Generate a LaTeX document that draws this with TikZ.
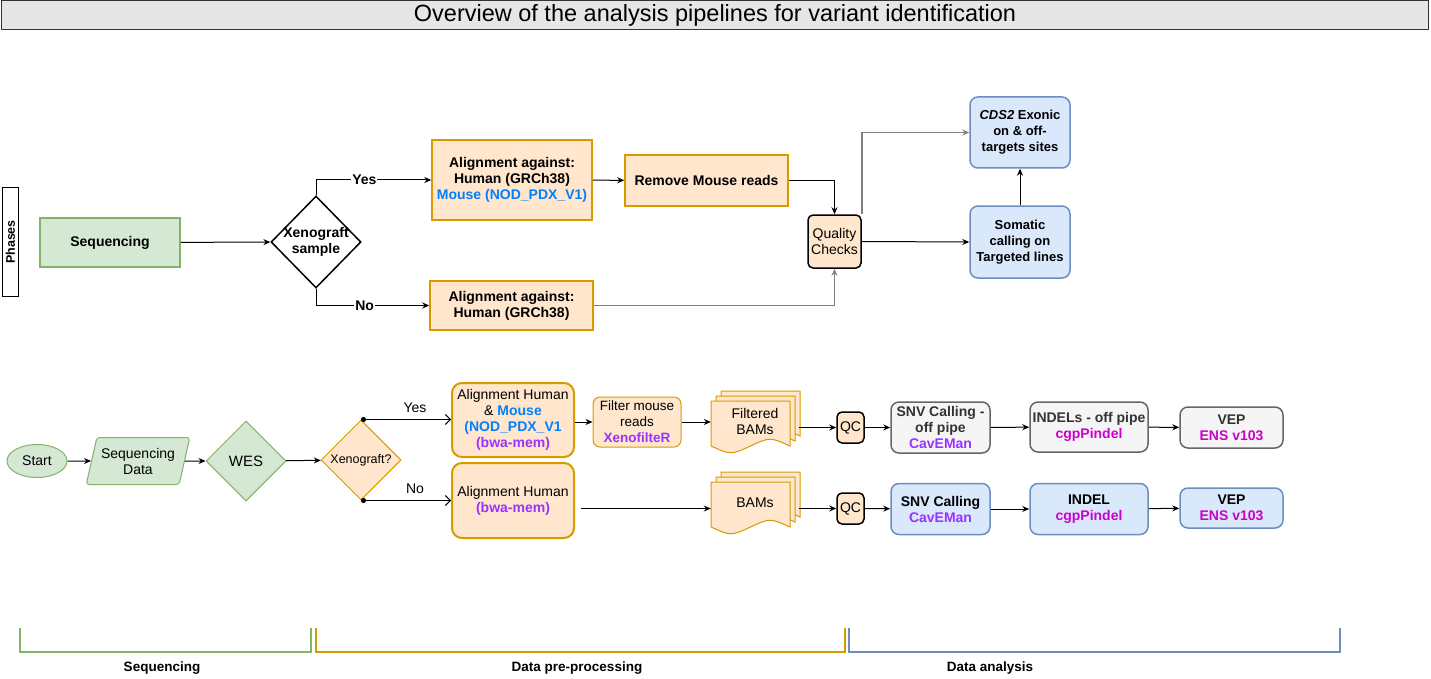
\documentclass[tikz,border=0pt]{standalone}
\usepackage{fontspec}
\setmainfont{Liberation Sans}
\usetikzlibrary{shapes.geometric,arrows.meta,positioning,calc}
\definecolor{LineGreen}{HTML}{82B366}
\definecolor{SoftGreen}{HTML}{D5E8D4}
\definecolor{LineOrange}{HTML}{D79B00}
\definecolor{SoftOrange}{HTML}{FFE6CC}
\definecolor{LineBlue}{HTML}{6C8EBF}
\definecolor{SoftBlue}{HTML}{DAE8FC}
\definecolor{LineGrey}{HTML}{666666}
\definecolor{SoftGrey}{HTML}{F5F5F5}
\definecolor{TextGrey}{HTML}{333333}
\definecolor{TitleGrey}{HTML}{E6E6E6}
\definecolor{MouseBlue}{HTML}{007FFF}
\definecolor{ToolPurple}{HTML}{9933FF}
\definecolor{ToolPink}{HTML}{CC00CC}
\tikzset{
  % Base box
  FB/.style={rectangle,align=center,draw,inner sep=1pt,line width=1.5pt,
             font=\fontsize{14}{16}\selectfont\bfseries},
  % Rounded box
  RB/.style={rectangle,rounded corners=8pt,align=center,draw,inner sep=1pt,line width=1pt,
             font=\fontsize{14}{16}\selectfont},
  % Base diamond
  DM/.style={diamond,inner sep=-6pt,align=center,draw},
  % Arrows
  arr/.style={-{Stealth[length=7pt,width=6pt]},line width=1pt},
  dotarr/.style={{Circle[length=5pt]}-{Straight Barb[length=5pt,width=10pt]},line width=1pt},
  gry/.style={draw=black!50,line width=1.6pt},
  % Colour variants
  nG/.style={FB,fill=SoftGreen,draw=LineGreen},
  nO/.style={FB,fill=SoftOrange,draw=LineOrange},
  nB/.style={RB,fill=SoftBlue,draw=LineBlue,line width=1.5pt,font=\fontsize{13}{16}\selectfont\bfseries},
  rO/.style={RB,fill=SoftOrange,draw=LineOrange},
  rX/.style={RB,fill=SoftGrey,draw=LineGrey,line width=1.5pt,text=TextGrey,font=\fontsize{14}{16}\selectfont\bfseries},
  rB/.style={RB,fill=SoftBlue,draw=LineBlue,line width=1.5pt,font=\fontsize{14}{16}\selectfont\bfseries},
  qcbox/.style={RB,rounded corners=5pt,fill=SoftOrange,draw=black,line width=1.5pt},
  docT/.style={rectangle,align=center,inner sep=0pt,font=\fontsize{14}{16}\selectfont},
  docpage/.pic={\draw[pic actions] (0,0) -- (79,0) -- (79,45)
      .. controls (59,36) .. (39.5,45) .. controls (20,54) .. (0,45) -- cycle;},
  % Label styles
  LT/.style={font=\fontsize{14}{16}\selectfont\bfseries,fill=white,inner sep=1pt},
  LB/.style={font=\fontsize{14}{16}\selectfont,inner sep=1pt},
  PH/.style={font=\fontsize{13.5}{15}\selectfont\bfseries,inner sep=0pt}
}

\begin{document}
\begin{tikzpicture}[x=1pt,y=-1pt]
  \useasboundingbox (0,0) rectangle (1431,679);

  % title and phases
  \node[rectangle,draw=black!80,fill=TitleGrey,line width=1pt,minimum width=1427pt,minimum height=28pt,
        font=\fontsize{23.5}{26}\selectfont] (title) at (715,15)
        {Overview of the analysis pipelines for variant identification};
  \node[rectangle,draw,line width=1.5pt,rotate=90,minimum width=109pt,minimum height=16pt,
        font=\fontsize{12.5}{14}\selectfont\bfseries] (phases) at (10.5,242) {Phases};

  % overview row
  \node[nG,minimum width=140pt,minimum height=49pt] (seq) at (110,242.5) {Sequencing};
  \node[DM,line width=1.5pt,minimum width=90pt,minimum height=92pt,
        font=\fontsize{14}{16}\selectfont\bfseries] (xeno) at (316,242) {Xenograft\\sample};
  \node[nO,minimum width=160pt,minimum height=80pt] (alnM) at (512,180)
        {Alignment against:\\Human (GRCh38)\\\textcolor{MouseBlue}{Mouse (NOD\_PDX\_V1)}};
  \node[nO,minimum width=163pt,minimum height=51pt] (rmMouse) at (706.5,180.5) {Remove Mouse reads};
  \node[nO,minimum width=163pt,minimum height=49pt] (alnH) at (511.5,305.5)
        {Alignment against:\\Human (GRCh38)};
  \node[qcbox,minimum width=53pt,minimum height=53pt] (qc) at (834.5,241.5) {Quality\\Checks};
  \node[nB,minimum width=100pt,minimum height=71pt] (cds) at (1020,132.5)
        {\textit{CDS2} Exonic\\on \& off-\\targets sites};
  \node[nB,minimum width=100pt,minimum height=72pt] (som) at (1020,242)
        {Somatic\\calling on\\Targeted lines};

  \draw[arr] (seq) -- (xeno);
  \draw[arr] (xeno.north) |- node[LT,pos=0.71]{Yes} (alnM.west);
  \draw[arr] (xeno.south) |- node[LT,pos=0.715]{No} (alnH.west);
  \draw[arr] (alnM) -- (rmMouse);
  \draw[arr] (rmMouse.east) -| (qc.north);
  \draw[arr,gry] (alnH.east) -| (qc.south);
  \draw[arr,gry] (qc.north east) |- (cds.west);
  \draw[arr] (qc.east) -- (som.west);
  \draw[arr] (som) -- (cds);

  % pipeline row
  \node[ellipse,draw=LineGreen,fill=SoftGreen,line width=1pt,minimum width=60pt,minimum height=33pt,
        inner sep=0pt,font=\fontsize{14}{16}\selectfont] (start) at (37,461) {Start};
  \node[trapezium,trapezium left angle=70,trapezium right angle=110,trapezium stretches=true,
        rounded corners=3pt,draw=LineGreen,fill=SoftGreen,line width=1pt,minimum width=104pt,
        minimum height=47pt,inner sep=0pt,align=center,font=\fontsize{14}{16}\selectfont] (seqD) at (138,461)
        {Sequencing\\Data};
  \node[DM,draw=LineGreen,fill=SoftGreen,line width=1pt,minimum width=80pt,minimum height=80pt,
        font=\fontsize{15}{17}\selectfont] (wes) at (246,461) {WES};
  \node[DM,draw=LineOrange,fill=SoftOrange,line width=1pt,minimum width=80pt,minimum height=80pt,
        font=\fontsize{12.5}{14}\selectfont] (xeno2) at (361,460) {Xenograft?};
  \node[rO,line width=2pt,rounded corners=10pt,minimum width=122pt,minimum height=74pt] (alnHM) at (513,420)
        {Alignment Human\\\& \textcolor{MouseBlue}{\textbf{Mouse}}\\\textcolor{MouseBlue}{\textbf{(NOD\_PDX\_V1}}\\
         \textcolor{ToolPurple}{\textbf{(bwa-mem)}}};
  \node[rO,line width=2pt,rounded corners=10pt,minimum width=122pt,minimum height=75pt] (alnH2) at (513,500.5)
        {Alignment Human\\\textcolor{ToolPurple}{\textbf{(bwa-mem)}}};
  \node[rO,rounded corners=7pt,minimum width=88pt,minimum height=50pt,font=\fontsize{13.5}{16}\selectfont]
        (filt) at (637,422) {Filter mouse\\reads\\\textcolor{ToolPurple}{\textbf{XenofilteR}}};

  \foreach \d in {10,5,0}{
    \path (711+\d,401-\d) pic[draw=LineOrange,fill=SoftOrange,line width=1pt] {docpage};
    \path (711+\d,482-\d) pic[draw=LineOrange,fill=SoftOrange,line width=1pt] {docpage};
  }
  \node[docT,minimum width=88pt,minimum height=60pt] (fbams) at (755,421) {Filtered\\BAMs};
  \node[docT,minimum width=88pt,minimum height=60pt] (bams) at (755,503) {BAMs};

  \node[qcbox,minimum width=27pt,minimum height=31pt] (qc1) at (850.5,427.5) {QC};
  \node[qcbox,minimum width=27pt,minimum height=31pt] (qc2) at (850.5,508.5) {QC};
  \node[rX,minimum width=99pt,minimum height=51pt] (snv1) at (940.5,427.5)
        {SNV Calling -\\off pipe\\\textcolor{ToolPurple}{CavEMan}};
  \node[rX,minimum width=118pt,minimum height=50pt] (ind1) at (1089,427)
        {INDELs - off pipe\\\textcolor{ToolPink}{cgpPindel}};
  \node[rX,minimum width=103pt,minimum height=41pt] (vep1) at (1231.5,427.5)
        {VEP\\\textcolor{ToolPink}{ENS v103}};
  \node[rB,minimum width=99pt,minimum height=51pt] (snv2) at (940.5,509)
        {SNV Calling\\\textcolor{ToolPurple}{CavEMan}};
  \node[rB,minimum width=118pt,minimum height=51pt] (ind2) at (1089,509)
        {INDEL\\\textcolor{ToolPink}{cgpPindel}};
  \node[rB,minimum width=103pt,minimum height=40pt] (vep2) at (1231.5,508)
        {VEP\\\textcolor{ToolPink}{ENS v103}};

  \draw[arr] (start) -- (seqD);
  \draw[arr] (seqD) -- (wes);
  \draw[arr] (wes) -- (xeno2);
  \draw[dotarr] (xeno2.north) -- node[LB,pos=0.6,above=5pt]{Yes} (xeno2.north -| alnHM.west);
  \draw[dotarr] (xeno2.south) -- node[LB,pos=0.6,above=5pt]{No} (xeno2.south -| alnH2.west);
  \draw[arr] (alnHM.east |- filt) -- (filt);
  \draw[arr] (filt.east) -- (fbams.west |- filt.east);
  \draw[arr] (fbams.east |- qc1) -- (qc1);
  \draw[arr,shorten <=6pt] (alnH2.east |- qc2) -- (bams.west |- qc2);
  \draw[arr] (bams.east |- qc2) -- (qc2);
  \draw[arr] (qc1) -- (snv1);
  \draw[arr] (snv1) -- (ind1);
  \draw[arr] (ind1) -- (vep1);
  \draw[arr] (qc2) -- (snv2);
  \draw[arr] (snv2) -- (ind2);
  \draw[arr] (ind2) -- (vep2);

  % phase brackets
  \draw[LineGreen,line width=1.5pt] (20,628) -- (20,652) -- (311,652) -- (311,628);
  \draw[LineOrange,line width=1.5pt] (316,628) -- (316,652) -- (845,652) -- (845,628);
  \draw[LineBlue,line width=1.5pt] (849,628) -- (849,652) -- (1340,652) -- (1340,628);
  \node[PH] (phSeq) at (162,668) {Sequencing};
  \node[PH] (phPre) at (577,668) {Data pre-processing};
  \node[PH] (phAna) at (990,668) {Data analysis};
\end{tikzpicture}
\end{document}
